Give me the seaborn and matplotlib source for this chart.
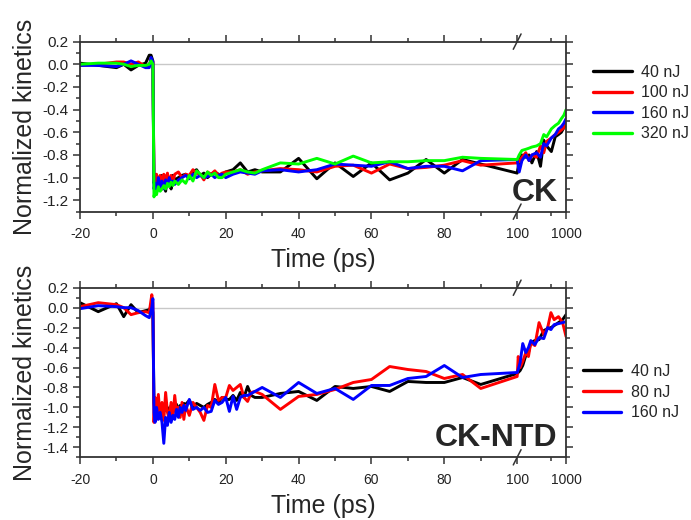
import numpy as np
import pandas as pd
import matplotlib
matplotlib.use('Agg')
import matplotlib.pyplot as plt
import seaborn as sns
from matplotlib.lines import Line2D
from matplotlib.ticker import MultipleLocator, FormatStrFormatter

# ---- data ----
t_ck = [-20, -15, -10, -8, -6, -4, -2, -1, -0.5, 0,
        0.3, 0.6, 1, 1.5, 2, 2.5, 3, 3.5, 4, 4.5, 5, 5.5, 6,
        7, 8, 9, 10, 11, 12, 13, 14, 15, 16, 17, 18, 19, 20,
        22, 24, 26, 28, 30,
        35, 40, 45, 50, 55, 60, 65, 70, 75, 80, 85, 90,
        100,
        110, 125, 150, 175, 200, 250, 300, 350, 400, 500, 600, 700, 800, 900, 1000]

ck_40 = [0.01, -0.01, -0.03, 0.0, -0.05, -0.01, 0.01, 0.08, 0.08, 0.03,
         -1.05, -1.0, -1.08, -1.02, -1.1, -0.98, -1.05, -1.12, -1.0, -1.04, -1.1, -0.98, -1.02,
         -1.0, -0.98, -0.97, -1.0, -0.95, -0.93, -0.98, -0.96, -1.0, -0.97, -0.95, -0.97, -0.98, -0.95,
         -0.93, -0.87, -0.95, -0.93, -0.95,
         -0.95, -0.83, -1.01, -0.87, -0.99, -0.87, -1.02, -0.96, -0.84, -0.96, -0.84, -0.88,
         -0.96,
         -0.85, -0.8, -0.82, -0.8, -0.87, -0.77, -0.9, -0.67, -0.72, -0.77, -0.64, -0.62, -0.6, -0.56, -0.51]

ck_100 = [-0.01, 0.0, 0.02, 0.02, 0.0, 0.02, -0.02, -0.02, 0.05, 0.02,
          -1.0, -1.08, -0.97, -1.05, -0.98, -1.1, -0.97, -1.03, -0.96, -1.06, -0.98, -1.04, -0.97,
          -0.95, -1.0, -0.97, -0.98, -0.93, -0.96, -0.97, -1.02, -0.95, -0.97, -0.94, -0.98, -0.96, -0.95,
          -0.95, -0.93, -0.97, -0.95, -0.94,
          -0.92, -0.93, -0.95, -0.9, -0.89, -0.96, -0.88, -0.92, -0.91, -0.89, -0.85, -0.89,
          -0.87,
          -0.86, -0.82, -0.78, -0.85, -0.8, -0.82, -0.72, -0.78, -0.68, -0.65, -0.62, -0.6, -0.58, -0.56, -0.5]

ck_160 = [-0.01, -0.01, -0.02, 0.0, 0.03, 0.0, -0.03, -0.03, 0.06, 0.02,
          -1.1, -1.05, -1.12, -1.0, -1.08, -1.03, -1.1, -1.02, -1.07, -1.0, -1.05, -1.03, -1.06,
          -1.02, -1.0, -0.98, -1.01, -0.97, -1.0, -0.98, -1.0, -0.99, -0.97, -1.0, -0.98, -0.97, -1.0,
          -0.97, -0.95, -0.96, -0.97, -0.94,
          -0.93, -0.95, -0.93, -0.88, -0.89, -0.9, -0.86, -0.92, -0.9, -0.9, -0.94, -0.85,
          -0.84,
          -0.95, -0.85, -0.8, -0.85, -0.8, -0.78, -0.82, -0.7, -0.72, -0.65, -0.62, -0.57, -0.55, -0.52, -0.48]

ck_320 = [0.0, 0.01, 0.01, 0.0, -0.02, -0.01, -0.01, 0.0, 0.03, 0.0,
          -1.17, -1.12, -1.15, -1.08, -1.12, -1.1, -1.07, -1.1, -1.05, -1.08, -1.04, -1.07, -1.03,
          -1.06, -1.02, -1.05, -0.98, -1.03, -0.94, -0.97, -1.0, -0.95, -0.98, -0.96, -1.0, -1.0, -0.97,
          -0.95, -0.93, -0.95, -0.96, -0.93,
          -0.87, -0.88, -0.83, -0.88, -0.81, -0.87, -0.86, -0.86, -0.85, -0.85, -0.82, -0.83,
          -0.84,
          -0.8, -0.76, -0.75, -0.74, -0.73, -0.72, -0.7, -0.62, -0.64, -0.57, -0.54, -0.52, -0.48, -0.45, -0.4]

t_ntd = [-20, -15, -10, -8, -6, -4, -2, -1, -0.3, 0,
         0.3, 0.6, 1, 1.5, 2, 2.5, 3, 3.5, 4, 4.5,
         5, 5.5, 6, 6.5, 7, 7.5, 8, 8.5, 9, 10,
         11, 12, 13, 14, 15, 16, 17, 18, 19, 20,
         21, 22, 23, 24, 25, 26, 27, 28, 30,
         35, 40, 45, 50, 55, 60, 65, 70, 75, 80, 85, 90,
         100,
         105, 115, 130, 150, 170, 190, 230, 280, 350, 420, 490, 570, 700, 850, 1000]

ntd_40 = [0.05, -0.04, 0.04, -0.09, 0.03, -0.05, -0.03, -0.02, 0.02, -0.05,
          -0.95, -1.05, -0.98, -1.1, -1.0, -1.07, -0.97, -1.03, -1.0, -1.08,
          -0.98, -1.05, -1.0, -0.97, -1.03, -0.98, -1.02, -0.96, -0.97, -0.93,
          -1.0, -0.96, -0.98, -1.0, -0.97, -0.95, -0.92, -0.95, -0.9, -0.92,
          -0.92, -0.88, -0.93, -0.85, -0.9, -0.79, -0.88, -0.9, -0.9,
          -0.86, -0.84, -0.93, -0.79, -0.81, -0.79, -0.84, -0.74, -0.75, -0.75, -0.7, -0.77,
          -0.66,
          -0.65, -0.63, -0.58, -0.48, -0.45, -0.35, -0.33, -0.32, -0.23, -0.21, -0.2, -0.18, -0.15, -0.12, -0.07]

ntd_80 = [0.01, 0.05, 0.03, 0.0, -0.07, -0.05, -0.04, -0.05, 0.13, 0.05,
          -1.15, -0.9, -1.12, -0.87, -1.1, -0.95, -1.13, -0.85, -1.05, -1.12,
          -0.95, -1.1, -0.88, -1.05, -1.0, -1.1, -0.95, -1.12, -0.98, -1.08,
          -0.95, -1.0, -1.05, -1.13, -0.98, -1.0, -0.77, -0.93, -0.9, -0.9,
          -0.78, -0.83, -0.8, -0.77, -0.9, -0.94, -0.85, -0.84, -0.87,
          -1.02, -0.89, -0.87, -0.82, -0.75, -0.72, -0.59, -0.62, -0.64, -0.71, -0.67, -0.81,
          -0.69,
          -0.49, -0.6, -0.54, -0.45, -0.49, -0.35, -0.38, -0.15, -0.27, -0.2, -0.05, -0.12, -0.09, -0.15, -0.29]

ntd_160 = [-0.01, 0.02, 0.01, 0.0, 0.0, -0.03, -0.08, -0.1, 0.0, 0.09,
           -1.05, -1.15, -1.0, -1.12, -1.05, -1.15, -1.36, -1.1, -1.18, -1.05,
           -1.15, -1.08, -1.12, -1.02, -1.1, -1.0, -1.05, -0.98, -1.03, -0.92,
           -1.02, -1.0, -1.03, -1.0, -1.05, -1.04, -0.93, -0.97, -0.95, -0.9,
           -1.04, -0.89, -1.02, -0.9, -0.88, -0.88, -0.86, -0.84, -0.8,
           -0.9, -0.75, -0.86, -0.81, -0.92, -0.78, -0.78, -0.71, -0.69, -0.58, -0.7, -0.67,
           -0.65,
           -0.62, -0.55, -0.36, -0.45, -0.4, -0.33, -0.37, -0.3, -0.31, -0.2, -0.22, -0.17, -0.16, -0.15, -0.14]

ck_labels = ['40 nJ', '100 nJ', '160 nJ', '320 nJ']
ntd_labels = ['40 nJ', '80 nJ', '160 nJ']
ck_colors = ['#000000', '#ff0000', '#0000ff', '#00ff00']
ntd_colors = ['#000000', '#ff0000', '#0000ff']

xticks = [-20, 0, 20, 40, 60, 80, 100, 1000]
xticklabels = ['-20', '0', '20', '40', '60', '80', '100', '1000']
xminor = [-10, 10, 30, 50, 70, 90, 500]

df_ck = pd.DataFrame({'time': np.tile(t_ck, 4),
                      'signal': np.concatenate([ck_40, ck_100, ck_160, ck_320]),
                      'pulse': np.repeat(ck_labels, len(t_ck))})
df_ntd = pd.DataFrame({'time': np.tile(t_ntd, 3),
                       'signal': np.concatenate([ntd_40, ntd_80, ntd_160]),
                       'pulse': np.repeat(ntd_labels, len(t_ntd))})

# broken axis: linear up to 100 ps, then one log decade squeezed in
LOG_W = 13.42


def fwd(t):
    t = np.asarray(t, dtype=float)
    return np.where(t <= 100, t, 100 + LOG_W * np.log10(np.maximum(t, 100) / 100))


def inv(u):
    u = np.asarray(u, dtype=float)
    return np.where(u <= 100, u, 100 * 10 ** ((np.clip(u, 100, 200) - 100) / LOG_W))


sns.set_style('ticks')
plt.rcParams['font.family'] = ['Liberation Sans', 'DejaVu Sans']
plt.rcParams['axes.unicode_minus'] = False

fig = plt.figure(figsize=(6.91, 5.2), dpi=100)
ax1 = fig.add_axes([0.1158, 0.593, 0.7034, 0.327])
ax2 = fig.add_axes([0.1158, 0.1206, 0.7034, 0.3261])


def style_panel(ax, df, labels, colors, ylim, yticks, name, leg_x, leg_y):
    ax.axhline(0, color='#c8c8c8', lw=1, zorder=0)
    sns.lineplot(data=df, x='time', y='signal', hue='pulse', hue_order=labels,
                 palette=colors, estimator=None, lw=2.1, legend=False, ax=ax)
    ax.set_xscale('function', functions=(fwd, inv))
    ax.set_xlim(-20, 1000)
    ax.set_ylim(*ylim)
    ax.set_xticks(xticks)
    ax.set_xticklabels(xticklabels)
    ax.set_xticks(xminor, minor=True)
    ax.set_yticks(yticks)
    ax.yaxis.set_major_formatter(FormatStrFormatter('%.1f'))
    ax.yaxis.set_minor_locator(MultipleLocator(0.1))
    ax.tick_params(which='both', direction='out', top=True, right=True,
                   color='#333333', width=1.1, labelcolor='#222222')
    ax.tick_params(which='major', length=5)
    ax.tick_params(which='minor', length=3)
    ax.tick_params(axis='x', labelsize=10, pad=6)
    ax.tick_params(axis='y', labelsize=11, pad=3)
    for s in ax.spines.values():
        s.set_color('#333333')
        s.set_linewidth(1.3)
    ax.set_xlabel('Time (ps)', fontsize=18, labelpad=5)
    ax.set_ylabel('Normalized kinetics', fontsize=18, labelpad=4)
    ax.text(0.983, 0.065, name, transform=ax.transAxes, ha='right', va='baseline',
            fontsize=23, fontweight='bold')
    # break marks at 100 ps
    xb = (100 + 20) / (fwd(1000) + 20)
    for yb in (0.0, 1.0):
        ax.plot([xb - 0.008, xb + 0.008], [yb - 0.045, yb + 0.045], color='#333333',
                lw=1.1, transform=ax.transAxes, clip_on=False)
    handles = [Line2D([], [], color=c, lw=2.4) for c in colors]
    ax.legend(handles, labels, loc='center left', bbox_to_anchor=(leg_x, leg_y),
              frameon=False, fontsize=11.5, handlelength=2.4, handletextpad=0.6,
              labelspacing=0.35, borderpad=0, borderaxespad=0)


style_panel(ax1, df_ck, ck_labels, ck_colors, (-1.3, 0.2),
            [0.2, 0.0, -0.2, -0.4, -0.6, -0.8, -1.0, -1.2], 'CK', 1.056, 0.639)
style_panel(ax2, df_ntd, ntd_labels, ntd_colors, (-1.5, 0.2),
            [0.2, 0.0, -0.2, -0.4, -0.6, -0.8, -1.0, -1.2, -1.4], 'CK-NTD', 1.035, 0.385)

fig.savefig('out.png', dpi=100)
